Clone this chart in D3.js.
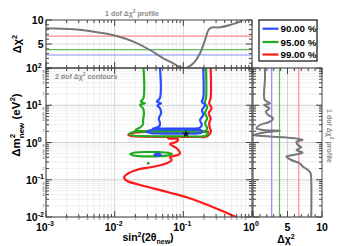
<!DOCTYPE html>
<html><head><meta charset="utf-8">
<script src="https://cdn.jsdelivr.net/npm/d3@7"></script>
<style>html,body{margin:0;padding:0;background:#fff;}svg{display:block;font-family:"Liberation Sans",Arial,sans-serif;}</style>
</head><body>
<svg id="c" width="346" height="246"></svg>
<script>
// ---------------- DATA ----------------
const levelLabels = ["90.00 %", "95.00 %", "99.00 %"];
const thresholds1dof = [2.71, 3.84, 6.63];

// top panel: 1 dof profile vs sin^2(2theta)
const topProfileSin2 = [0.001,0.0025,0.0061,0.0107,0.0187,0.0327,0.051,0.0714,0.0893,0.112,0.14,0.175,0.207,0.244,0.342,0.478,0.668,0.746];
const topProfileChi2 = [8.3,8.06,7.35,6.67,5.48,3.75,2.02,0.98,0.15,0.06,0.98,3.06,5.83,8.27,8.48,8.96,9.65,10.1];

// right panel: 1 dof profile vs dm2
const rightProfileDm2  = [100,47.7,21.3,13.8,11.3,10.2,9.15,8.28,6.71,5.47,4.46,3.62,2.95,2.41,2.17,2.08,1.95,1.77,1.59,1.49,1.38,1.27,1.17,1.05,0.857,0.743,0.629,0.532,0.461,0.416,0.339,0.277,0.224,0.183,0.149,0.0984,0.01];
const rightProfileChi2 = [1.73,1.73,1.6,1.7,2.45,1.6,2.0,2.4,1.85,2.2,2.9,2.45,1.0,0.5,1.4,3.9,2.6,1.0,0.05,1.5,4.4,6.3,7.2,6.3,6.5,7.0,6.3,7.2,5.8,4.85,5.55,6.76,7.24,7.96,8.35,8.44,8.44];

// 2 dof contours [sin2(2theta), dm2]
const blue90Main = [[0.0457,100],[0.0457,15.7],[0.0413,12.4],[0.0473,11.3],[0.0420,9.72],[0.0457,8.28],[0.0473,6.08],[0.0440,4.46],[0.0457,3.27],[0.0450,2.77],[0.040,2.48],[0.036,2.38],[0.06,2.36],[0.10,2.36],[0.15,2.38],[0.172,2.45],[0.186,2.95],[0.175,4.02],[0.195,5.47],[0.187,7.45],[0.207,10.2],[0.186,12.4],[0.195,15.7],[0.195,100]];
const blue90Band = [[0.0296,1.97],[0.034,2.17],[0.06,2.23],[0.12,2.23],[0.178,2.15],[0.188,1.97],[0.178,1.80],[0.12,1.74],[0.05,1.74],[0.033,1.80]];
const blue90Island = [[0.038,0.47],[0.042,0.50],[0.047,0.47],[0.042,0.44]];

const green95Main = [[0.0263,100],[0.0263,15.7],[0.0241,12.4],[0.0277,11.3],[0.0234,10.2],[0.0259,8.28],[0.0267,6.08],[0.0259,4.02],[0.0259,3.14],[0.0240,2.6],[0.020,2.15],[0.024,2.02],[0.06,2.0],[0.15,2.0],[0.21,2.05],[0.223,2.45],[0.207,3.27],[0.223,4.46],[0.207,6.08],[0.223,9.15],[0.205,11.3],[0.214,15.7],[0.214,100]];
const green95Band = [[0.0164,1.69],[0.0185,1.92],[0.026,1.98],[0.1,1.95],[0.2,1.93],[0.229,1.74],[0.205,1.49],[0.1,1.47],[0.03,1.47],[0.0185,1.54]];
const green95Island = [[0.0168,0.491],[0.02,0.54],[0.03,0.556],[0.045,0.55],[0.06,0.53],[0.0684,0.491],[0.06,0.45],[0.045,0.43],[0.03,0.425],[0.02,0.44]];
const green95Dot = [[0.0309,0.277]];

const red99Main = [[0.25,100],[0.25,15.7],[0.238,11.3],[0.257,8.28],[0.234,6.08],[0.25,4.46],[0.238,3.27],[0.244,2.41],[0.253,2.04],[0.244,1.74],[0.22,1.45],[0.15,1.41],[0.07,1.41],[0.03,1.43],[0.0173,1.5],[0.0158,1.62],[0.018,1.8],[0.03,1.95],[0.15,1.97],[0.237,1.97]];
const red99Lower = [[0.06,1.41],[0.0598,1.30],[0.0836,1.22],[0.080,1.05],[0.064,0.912],[0.0706,0.805],[0.080,0.698],[0.0893,0.513],[0.0836,0.461],[0.064,0.401],[0.0676,0.339],[0.0573,0.277],[0.0365,0.224],[0.0209,0.183],[0.0150,0.140],[0.0137,0.116],[0.0150,0.094],[0.0209,0.0769],[0.0365,0.0589],[0.064,0.0449],[0.112,0.0338],[0.195,0.0233],[0.342,0.0154],[0.505,0.0113],[0.59,0.01]];

const bestFit = [0.109, 1.69];

const xTickExps = ["-3","-2","-1","0"];
const yTickExps = ["-2","-1","0","1","2"];
const minorDigits = [2,3,4,5,6,7,8];

// ---------------- STYLE / LAYOUT ----------------
const colors = ["#2a4bff", "#22aa22", "#ff1a1a"];
const lightColors = ["#8090ff", "#5cbf5c", "#ff8a8a"];
const svg = d3.select("#c");
const P = {x0:46, x1:252, yTop0:20, yTop1:68, y0:68, y1:217, rx0:253, rx1:322};

const xS = d3.scaleLog().domain([1e-3,1]).range([P.x0,P.x1]);
const yS = d3.scaleLog().domain([1e-2,1e2]).range([P.y1,P.y0]);
const tY = d3.scaleLinear().domain([0,10]).range([P.yTop1,P.yTop0]);
const rX = d3.scaleLinear().domain([0,10]).range([P.rx0,P.rx1]);

const isMajor = v => Math.abs(Math.log10(v)-Math.round(Math.log10(v)))<1e-6;
const xT = xS.ticks(), yT = yS.ticks();

const defs = svg.append("defs");
defs.append("clipPath").attr("id","cm").append("rect").attr("x",P.x0).attr("y",P.y0).attr("width",P.x1-P.x0).attr("height",P.y1-P.y0);
defs.append("clipPath").attr("id","ct").append("rect").attr("x",P.x0).attr("y",P.yTop0).attr("width",P.x1-P.x0).attr("height",P.yTop1-P.yTop0);
defs.append("clipPath").attr("id","cr").append("rect").attr("x",P.rx0).attr("y",P.y0).attr("width",P.rx1-P.rx0).attr("height",P.y1-P.y0);

// ---------------- GRIDS ----------------
const g = svg.append("g");
xT.forEach(v=>{
  const maj=isMajor(v); const c = maj?"#c8c8c8":"#ececec";
  [[P.yTop0,P.yTop1],[P.y0,P.y1]].forEach(([a,b])=>g.append("line").attr("x1",xS(v)).attr("x2",xS(v)).attr("y1",a).attr("y2",b).attr("stroke",c).attr("stroke-width",0.8));
});
yT.forEach(v=>{
  const maj=isMajor(v); const c = maj?"#c8c8c8":"#ececec";
  [[P.x0,P.x1],[P.rx0,P.rx1]].forEach(([a,b])=>g.append("line").attr("y1",yS(v)).attr("y2",yS(v)).attr("x1",a).attr("x2",b).attr("stroke",c).attr("stroke-width",0.8));
});
g.append("line").attr("x1",P.x0).attr("x2",P.x1).attr("y1",tY(5)).attr("y2",tY(5)).attr("stroke","#d0d0d0").attr("stroke-width",0.8);
g.append("line").attr("x1",rX(5)).attr("x2",rX(5)).attr("y1",P.y0).attr("y2",P.y1).attr("stroke","#c8c8c8").attr("stroke-width",0.8);

// ---------------- THRESHOLD LINES ----------------
thresholds1dof.forEach((t,i)=>{
  svg.append("line").attr("x1",P.x0).attr("x2",P.x1).attr("y1",tY(t)).attr("y2",tY(t)).attr("stroke",lightColors[i]).attr("stroke-width",1.2);
  svg.append("line").attr("x1",rX(t)).attr("x2",rX(t)).attr("y1",P.y0).attr("y2",P.y1).attr("stroke",lightColors[i]).attr("stroke-width",1.2);
});

// ---------------- PROFILES ----------------
const topLine = d3.line().x(d=>xS(d[0])).y(d=>tY(d[1])).curve(d3.curveCatmullRom.alpha(0.5));
svg.append("path").attr("clip-path","url(#ct)").attr("d",topLine(topProfileSin2.map((x,i)=>[x,topProfileChi2[i]])))
  .attr("fill","none").attr("stroke","#777").attr("stroke-width",2);
const rightLine = d3.line().x(d=>rX(d[1])).y(d=>yS(d[0])).curve(d3.curveCatmullRom.alpha(0.5));
svg.append("path").attr("clip-path","url(#cr)").attr("d",rightLine(rightProfileDm2.map((y,i)=>[y,rightProfileChi2[i]])))
  .attr("fill","none").attr("stroke","#777").attr("stroke-width",2);

// ---------------- CONTOURS ----------------
const cLine = d3.line().x(d=>xS(d[0])).y(d=>yS(d[1])).curve(d3.curveCatmullRom.alpha(0.5));
const cLoop = d3.line().x(d=>xS(d[0])).y(d=>yS(d[1])).curve(d3.curveCatmullRomClosed.alpha(0.5));
const cg = svg.append("g").attr("clip-path","url(#cm)").attr("fill","none").attr("stroke-width",2.2).attr("stroke-linejoin","round");
cg.append("path").attr("d",cLine(red99Main)).attr("stroke",colors[2]);
cg.append("path").attr("d",cLine(red99Lower)).attr("stroke",colors[2]);
cg.append("path").attr("d",cLine(green95Main)).attr("stroke",colors[1]);
cg.append("path").attr("d",cLoop(green95Band)).attr("stroke",colors[1]);
cg.append("path").attr("d",cLoop(green95Island)).attr("stroke",colors[1]);
cg.selectAll(".gd").data(green95Dot).join("circle").attr("cx",d=>xS(d[0])).attr("cy",d=>yS(d[1])).attr("r",1.4).attr("fill",colors[1]).attr("stroke","none");
cg.append("path").attr("d",cLine(blue90Main)).attr("stroke",colors[0]);
cg.append("path").attr("d",cLoop(blue90Band)).attr("stroke",colors[0]);
cg.append("path").attr("d",cLoop(blue90Island)).attr("stroke",colors[0]);
svg.append("path").attr("d",d3.symbol(d3.symbolStar).size(18)()).attr("transform",`translate(${xS(bestFit[0])},${yS(bestFit[1])})`).attr("fill","#111");

// ---------------- FRAMES & TICKS ----------------
const fr = svg.append("g").attr("stroke","#444").attr("stroke-width",1).attr("fill","none");
fr.append("rect").attr("x",P.x0).attr("y",P.yTop0).attr("width",P.x1-P.x0).attr("height",P.yTop1-P.yTop0);
fr.append("rect").attr("x",P.x0).attr("y",P.y0).attr("width",P.x1-P.x0).attr("height",P.y1-P.y0);
fr.append("rect").attr("x",P.rx0).attr("y",P.y0).attr("width",P.rx1-P.rx0).attr("height",P.y1-P.y0);
function tick(x1,y1,x2,y2){ fr.append("line").attr("x1",x1).attr("y1",y1).attr("x2",x2).attr("y2",y2); }
xT.forEach(v=>{ const L=isMajor(v)?6:3, x=xS(v);
  tick(x,P.y1,x,P.y1-L); tick(x,P.y0,x,P.y0+L); tick(x,P.yTop1,x,P.yTop1-L); tick(x,P.yTop0,x,P.yTop0+L); });
yT.forEach(v=>{ const L=isMajor(v)?6:3, y=yS(v);
  tick(P.x0,y,P.x0+L,y); tick(P.x1,y,P.x1-L,y); tick(P.rx0,y,P.rx0+L,y); tick(P.rx1,y,P.rx1-L,y); });
d3.range(0,11).forEach(v=>{ const L=(v%5===0)?6:3;
  const y=tY(v); tick(P.x0,y,P.x0+L,y); tick(P.x1,y,P.x1-L,y);
  const x=rX(v); tick(x,P.y1,x,P.y1-L); tick(x,P.y0,x,P.y0+L); });

// ---------------- LABELS ----------------
const lab = svg.append("g").attr("font-weight","bold").attr("fill","#000");
xTickExps.forEach(e=>{
  const t=lab.append("text").attr("x",xS(+("1e"+e))-1).attr("y",230.5).attr("text-anchor","middle").attr("font-size",10.5);
  t.append("tspan").text("10"); t.append("tspan").attr("dy",-4.5).attr("font-size",7).text(e);
});
yTickExps.forEach(e=>{
  const t=lab.append("text").attr("x",26).attr("y",yS(+("1e"+e))+4).attr("font-size",10.5);
  t.append("tspan").text("10"); t.append("tspan").attr("dy",-4.5).attr("font-size",7).text(e);
});
// minor tick digits
const mg = svg.append("g").attr("font-size",3.4).attr("fill","#333");
xT.filter(v=>!isMajor(v)).forEach(v=>{ const m=Math.round(v/Math.pow(10,Math.floor(Math.log10(v)+1e-9)));
  if(minorDigits.includes(m)) mg.append("text").attr("x",xS(v)).attr("y",P.y1+3).attr("text-anchor","middle").text(m); });
yT.filter(v=>!isMajor(v)).forEach(v=>{ const m=Math.round(v/Math.pow(10,Math.floor(Math.log10(v)+1e-9)));
  if([2,4,5,6,8].includes(m)) mg.append("text").attr("x",P.x0-1.5).attr("y",yS(v)+1.2).attr("text-anchor","end").text(m); });
[[10,"10"],[5,"5"]].forEach(([v,s])=>lab.append("text").attr("x",43.5).attr("y",tY(v)+4).attr("text-anchor","end").attr("font-size",10.5).text(s));
[[5,"5"],[10,"10"]].forEach(([v,s])=>lab.append("text").attr("x",rX(v)).attr("y",230.5).attr("text-anchor","middle").attr("font-size",10.5).text(s));

// axis titles
const t1 = lab.append("text").attr("transform","translate(21,44) rotate(-90)").attr("text-anchor","middle").attr("font-size",11);
t1.append("tspan").text("Δχ"); t1.append("tspan").attr("dy",-4.5).attr("font-size",7.5).text("2");
const t2 = lab.append("text").attr("transform","translate(20,125) rotate(-90)").attr("text-anchor","middle").attr("font-size",11.5);
t2.append("tspan").text("Δm"); t2.append("tspan").attr("dy",-5).attr("font-size",8).text("2");
t2.append("tspan").attr("dx",-4.5).attr("dy",8.5).attr("font-size",8).text("new");
t2.append("tspan").attr("dy",-3.5).text(" (eV"); t2.append("tspan").attr("dy",-5).attr("font-size",8).text("2");
t2.append("tspan").attr("dy",5).text(")");
const t3 = lab.append("text").attr("x",148).attr("y",240.5).attr("text-anchor","middle").attr("font-size",10.5);
t3.append("tspan").text("sin"); t3.append("tspan").attr("dy",-4).attr("font-size",7).text("2");
t3.append("tspan").attr("dy",4).text("(2θ"); t3.append("tspan").attr("dy",3).attr("font-size",7).text("new");
t3.append("tspan").attr("dy",-3).text(")");
const t4 = lab.append("text").attr("x",286).attr("y",242.5).attr("text-anchor","middle").attr("font-size",10.5);
t4.append("tspan").text("Δχ"); t4.append("tspan").attr("dy",-4).attr("font-size",7).text("2");

// panel annotations (gray)
const ann = svg.append("g").attr("font-weight","bold").attr("fill","#8a8a8a").attr("font-size",7);
const a1 = ann.append("text").attr("x",132).attr("y",15.5).attr("text-anchor","middle");
a1.append("tspan").text("1 dof Δχ"); a1.append("tspan").attr("dy",-3).attr("font-size",5).text("2"); a1.append("tspan").attr("dy",3).text(" profile");
const a2 = ann.append("text").attr("x",55).attr("y",79);
a2.append("tspan").text("2 dof Δχ"); a2.append("tspan").attr("dy",-3).attr("font-size",5).text("2"); a2.append("tspan").attr("dy",3).text(" contours");
const a3 = ann.append("text").attr("transform","translate(327,136) rotate(90)").attr("text-anchor","middle");
a3.append("tspan").text("1 dof Δχ"); a3.append("tspan").attr("dy",-3).attr("font-size",5).text("2"); a3.append("tspan").attr("dy",3).text(" profile");

// ---------------- LEGEND ----------------
const lg = svg.append("g");
lg.append("rect").attr("x",259).attr("y",20).attr("width",58).attr("height",41).attr("fill","#fff").attr("stroke","#222").attr("stroke-width",1.3);
levelLabels.forEach((s,i)=>{
  const y=[28.7,42,54.5][i];
  lg.append("line").attr("x1",262.5).attr("x2",278.5).attr("y1",y).attr("y2",y).attr("stroke",colors[i]).attr("stroke-width",2.2);
  lg.append("text").attr("x",280.5).attr("y",y+3.6).attr("font-size",9.8).attr("font-weight","bold").text(s);
});
</script>
</body></html>
